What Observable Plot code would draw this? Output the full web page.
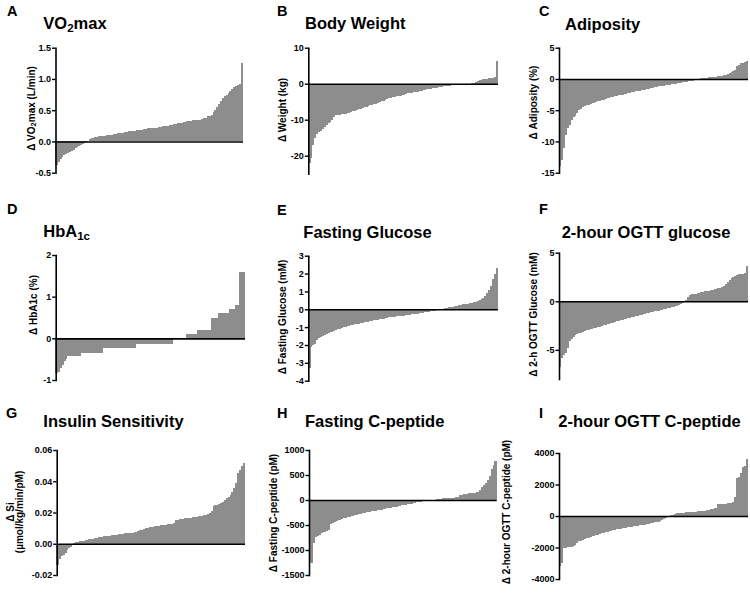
<!DOCTYPE html>
<html><head><meta charset="utf-8">
<script src="https://cdn.jsdelivr.net/npm/d3@7"></script>
<script src="https://cdn.jsdelivr.net/npm/@observablehq/plot@0.6"></script>
<style>
body{margin:0;background:#fff;}
#wrap{position:relative;width:750px;height:593px;overflow:hidden;font-family:"Liberation Sans",Arial,sans-serif;}
.panel{position:absolute;}
#overlay{position:absolute;left:0;top:0;}
</style></head><body><div id="wrap"></div>
<script>
// ---------- data (sorted individual changes) ----------
const vo2maxChange = [
-0.37,-0.33,-0.28,-0.25,-0.22,-0.2,-0.18,-0.17,-0.15,-0.13,
-0.11,-0.09,-0.07,-0.05,-0.04,-0.02,-0.01,0.01,0.04,0.05,
0.06,0.07,0.07,0.08,0.08,0.09,0.09,0.1,0.1,0.11,
0.11,0.12,0.12,0.13,0.13,0.14,0.14,0.15,0.15,0.16,
0.16,0.17,0.17,0.18,0.18,0.19,0.19,0.2,0.2,0.21,
0.21,0.21,0.22,0.22,0.22,0.23,0.23,0.24,0.24,0.24,
0.25,0.26,0.27,0.28,0.28,0.29,0.3,0.3,0.31,0.31,
0.32,0.33,0.33,0.34,0.34,0.35,0.35,0.35,0.36,0.37,
0.38,0.4,0.41,0.43,0.47,0.5,0.55,0.6,0.65,0.7,
0.72,0.75,0.78,0.8,0.84,0.87,0.88,0.9,0.92,1.25];
const weightChange = [
-22,-20.5,-17,-15,-14,-13.5,-13,-12.5,-12,-11.5,
-11,-10.5,-10,-9.2,-8.8,-8.7,-8.6,-8.5,-8.4,-8.3,
-8.2,-8.0,-7.8,-7.6,-7.5,-7.3,-7.1,-7.0,-6.8,-6.6,
-6.4,-6.2,-6.0,-5.8,-5.6,-5.5,-5.3,-5.1,-4.9,-4.7,
-4.5,-4.3,-4.1,-3.9,-3.8,-3.6,-3.5,-3.4,-3.3,-3.1,
-3.0,-2.9,-2.7,-2.6,-2.5,-2.4,-2.3,-2.2,-2.0,-1.9,
-1.8,-1.7,-1.6,-1.5,-1.4,-1.3,-1.2,-1.1,-1.0,-0.9,
-0.8,-0.7,-0.6,-0.55,-0.5,-0.45,-0.4,-0.35,-0.3,-0.25,
-0.2,-0.15,-0.1,-0.05,-0.02,0.02,0.1,0.3,0.6,0.8,
1.0,1.1,1.2,1.3,1.4,1.5,1.6,1.7,1.8,6.3];
const adiposityChange = [
-14,-13,-11,-9,-7.8,-7.4,-6.5,-6.1,-6.0,-5.5,
-5.0,-4.8,-4.5,-4.3,-4.2,-4.1,-4.0,-3.9,-3.8,-3.7,
-3.6,-3.5,-3.4,-3.3,-3.2,-3.1,-3.0,-2.95,-2.9,-2.8,
-2.7,-2.6,-2.55,-2.5,-2.4,-2.35,-2.3,-2.2,-2.15,-2.1,
-2.0,-1.95,-1.9,-1.8,-1.75,-1.7,-1.6,-1.55,-1.5,-1.4,
-1.35,-1.3,-1.2,-1.15,-1.1,-1.05,-1.0,-0.95,-0.9,-0.85,
-0.8,-0.75,-0.7,-0.65,-0.6,-0.55,-0.5,-0.45,-0.4,-0.3,
-0.25,-0.2,-0.1,-0.05,0.05,0.1,0.12,0.15,0.2,0.25,
0.3,0.3,0.32,0.35,0.4,0.45,0.5,0.6,0.7,0.85,
1.0,1.1,1.3,1.5,2.0,2.2,2.5,2.6,2.7,2.8];
const hba1cChange = [
-0.84,-0.8,-0.72,-0.65,-0.55,-0.5,-0.43,-0.43,-0.43,-0.43,
-0.43,-0.43,-0.43,-0.35,-0.35,-0.35,-0.35,-0.35,-0.35,-0.35,
-0.35,-0.35,-0.35,-0.35,-0.35,-0.24,-0.24,-0.24,-0.24,-0.24,
-0.24,-0.24,-0.24,-0.24,-0.24,-0.24,-0.24,-0.24,-0.24,-0.24,
-0.24,-0.24,-0.14,-0.14,-0.14,-0.14,-0.14,-0.14,-0.14,-0.14,
-0.14,-0.14,-0.14,-0.14,-0.14,-0.14,-0.14,-0.14,-0.14,-0.14,
-0.14,-0.14,0,0,0,0,0,0,0,0.1,
0.1,0.1,0.1,0.1,0.1,0.2,0.2,0.2,0.2,0.2,
0.2,0.2,0.5,0.5,0.5,0.5,0.6,0.6,0.6,0.6,
0.6,0.6,0.7,0.7,0.7,0.8,0.8,1.6,1.6,1.6];
const fastingGlucoseChange = [
-3.3,-2.1,-2.0,-1.95,-1.7,-1.6,-1.55,-1.5,-1.45,-1.4,
-1.35,-1.3,-1.25,-1.2,-1.15,-1.1,-1.08,-1.05,-1.0,-0.98,
-0.95,-0.92,-0.9,-0.87,-0.85,-0.82,-0.8,-0.78,-0.76,-0.74,
-0.72,-0.7,-0.68,-0.65,-0.62,-0.6,-0.58,-0.56,-0.54,-0.52,
-0.5,-0.48,-0.46,-0.45,-0.43,-0.42,-0.4,-0.39,-0.37,-0.36,
-0.35,-0.33,-0.32,-0.3,-0.29,-0.28,-0.27,-0.25,-0.23,-0.21,
-0.19,-0.17,-0.15,-0.13,-0.11,-0.09,-0.07,-0.05,-0.03,-0.02,
0.01,0.03,0.06,0.08,0.1,0.12,0.15,0.18,0.2,0.22,
0.25,0.28,0.3,0.31,0.32,0.34,0.36,0.38,0.4,0.45,
0.5,0.55,0.65,0.75,0.9,1.1,1.3,1.7,2.0,2.3];
const ogttGlucoseChange = [
-6.8,-5.8,-5.5,-5.3,-4.8,-4.1,-3.9,-3.7,-3.5,-3.4,
-3.3,-3.25,-3.2,-3.1,-3.0,-2.95,-2.9,-2.85,-2.8,-2.7,
-2.65,-2.6,-2.5,-2.45,-2.4,-2.35,-2.3,-2.25,-2.2,-2.1,
-2.05,-2.0,-1.95,-1.9,-1.85,-1.8,-1.75,-1.7,-1.65,-1.6,
-1.55,-1.5,-1.45,-1.4,-1.35,-1.3,-1.25,-1.2,-1.15,-1.1,
-1.05,-1.0,-0.95,-0.9,-0.85,-0.8,-0.75,-0.7,-0.65,-0.6,
-0.55,-0.5,-0.45,-0.35,-0.3,-0.2,-0.1,0.1,0.4,0.6,
0.7,0.75,0.8,0.85,0.9,0.95,1.0,1.05,1.1,1.1,
1.15,1.2,1.25,1.3,1.35,1.4,1.5,1.6,1.8,2.0,
2.2,2.4,2.5,2.6,2.7,2.8,2.8,2.85,2.9,3.6];
const siChange = [
-0.0135,-0.01,-0.008,-0.007,-0.006,-0.004,-0.003,-0.002,-0.001,0.0005,
0.001,0.0012,0.0015,0.0018,0.002,0.0022,0.0025,0.0028,0.003,0.0033,
0.0036,0.0039,0.0042,0.0044,0.0046,0.0048,0.005,0.0051,0.0052,0.0053,
0.0055,0.0057,0.0059,0.006,0.0062,0.0064,0.0066,0.0068,0.007,0.0071,
0.0072,0.0074,0.0076,0.008,0.0085,0.009,0.0095,0.01,0.0102,0.0105,
0.0108,0.011,0.0112,0.0114,0.0116,0.0118,0.012,0.0121,0.0122,0.0124,
0.0126,0.0128,0.013,0.0152,0.0154,0.0156,0.0158,0.016,0.0162,0.0164,
0.0166,0.0168,0.017,0.0172,0.0174,0.0176,0.0178,0.018,0.0182,0.0185,
0.019,0.02,0.021,0.024,0.0245,0.025,0.0255,0.026,0.027,0.028,
0.029,0.03,0.031,0.033,0.036,0.039,0.045,0.047,0.05,0.052];
const fastingCpeptideChange = [
-1250,-1250,-850,-740,-720,-700,-660,-640,-630,-610,
-600,-480,-450,-430,-410,-400,-390,-375,-360,-350,
-340,-330,-320,-310,-300,-295,-285,-275,-265,-255,
-245,-240,-235,-228,-220,-212,-205,-198,-190,-182,
-175,-168,-160,-152,-145,-138,-130,-122,-115,-108,
-100,-92,-85,-78,-70,-62,-55,-48,-42,-35,
-28,-20,-12,-6,-2,0,2,5,20,25,
30,35,38,40,42,45,48,50,55,60,
100,110,120,125,130,135,140,145,150,160,
170,200,260,300,340,400,480,620,700,780];
const ogttCpeptideChange = [
-3200,-3000,-2050,-2000,-1980,-1960,-1940,-1900,-1820,-1700,
-1600,-1560,-1520,-1480,-1420,-1380,-1340,-1300,-1260,-1220,
-1180,-1140,-1100,-1060,-1020,-990,-960,-930,-900,-880,
-850,-820,-800,-780,-760,-740,-720,-700,-680,-660,
-640,-620,-600,-580,-560,-540,-520,-500,-470,-440,
-410,-380,-350,-320,-280,-220,-150,-80,-30,40,
80,120,160,190,200,210,220,230,240,250,
260,270,280,290,300,310,320,330,350,400,
420,450,480,500,750,760,770,780,790,800,
820,850,870,1200,2400,2500,2700,3100,3200,3600];

// ---------- tick values ----------
const vo2Ticks = [-0.5, 0.0, 0.5, 1.0, 1.5];
const weightTicks = [-20, -10, 0, 10];
const adiposityTicks = [-15, -10, -5, 0, 5];
const hba1cTicks = [-1, 0, 1, 2];
const fastingGlucoseTicks = [-4, -3, -2, -1, 0, 1, 2, 3];
const ogttGlucoseTicks = [-5, 0, 5];
const siTicks = [-0.02, 0.00, 0.02, 0.04, 0.06];
const fastingCpeptideTicks = [-1500, -1000, -500, 0, 500, 1000];
const ogttCpeptideTicks = [-4000, -2000, 0, 2000, 4000];

// ---------- text ----------
const panelLetters = ["A","B","C","D","E","F","G","H","I"];
const panelTitles = [
  [["VO"],["2","sub"],["max"]],
  [["Body Weight"]],
  [["Adiposity"]],
  [["HbA"],["1c","sub"]],
  [["Fasting Glucose"]],
  [["2-hour OGTT glucose"]],
  [["Insulin Sensitivity"]],
  [["Fasting C-peptide"]],
  [["2-hour OGTT C-peptide"]]
];
// each label: list of lines; each line: list of [text, "sub"?] parts
const yLabels = [
  [[["Δ VO"],["2","sub"],["max (L/min)"]]],
  [[["Δ Weight (kg)"]]],
  [[["Δ Adiposity (%)"]]],
  [[["Δ HbA1c (%)"]]],
  [[["Δ Fasting Glucose (mM)"]]],
  [[["Δ 2-h OGTT Glucose (mM)"]]],
  [[["Δ Si"]],[["(µmol/kg/min/pM)"]]],
  [[["Δ Fasting C-peptide (pM)"]]],
  [[["Δ 2-hour OGTT C-peptide (pM)"]]]
];

// ---------- layout (positions only) ----------
const fmt1 = d => d.toFixed(1), fmt0 = d => String(d), fmt2 = d => d.toFixed(2);
const panels = [
  {vals: vo2maxChange, ticks: vo2Ticks, domain:[-0.5,1.5], fmt: fmt1,
   left:0, top:0, w:250, h:190, ml:55.5, mr:7, mt:47.7, mb:17.3,
   letter:[7,16], title:[43.3,29.3], ylab:[[30.5,108.5]]},
  {vals: weightChange, ticks: weightTicks, domain:[-25,10], fmt: fmt0,
   left:250, top:0, w:250, h:190, ml:58.3, mr:2, mt:47.7, mb:16.3,
   letter:[277,16], title:[305,29.3], ylab:[[282,110]]},
  {vals: adiposityChange, ticks: adiposityTicks, domain:[-15,5], fmt: fmt0,
   left:500, top:0, w:250, h:190, ml:59, mr:2, mt:47.7, mb:17.3,
   letter:[539,16], title:[565,30], ylab:[[532.5,102.5]]},
  {vals: hba1cChange, ticks: hba1cTicks, domain:[-1,2], fmt: fmt0,
   left:0, top:190, w:250, h:200, ml:55.7, mr:5, mt:65, mb:10,
   letter:[7,214], title:[43.3,237.3], ylab:[[32.5,305]]},
  {vals: fastingGlucoseChange, ticks: fastingGlucoseTicks, domain:[-4,3], fmt: fmt0,
   left:250, top:190, w:250, h:200, ml:58.3, mr:2, mt:65.7, mb:9.3,
   letter:[277,215], title:[303.3,237.7], ylab:[[282,317]]},
  {vals: ogttGlucoseChange, ticks: ogttGlucoseTicks, domain:[-8,5], fmt: fmt0,
   left:500, top:190, w:250, h:200, ml:59, mr:2, mt:62.7, mb:11,
   letter:[539,214], title:[561.7,237.7], ylab:[[532.5,314.5]]},
  {vals: siChange, ticks: siTicks, domain:[-0.02,0.06], fmt: fmt2,
   left:0, top:390, w:250, h:203, ml:56.7, mr:5, mt:60, mb:18,
   letter:[6,418], title:[43.3,427.3], ylab:[[9.5,512],[19,512]]},
  {vals: fastingCpeptideChange, ticks: fastingCpeptideTicks, domain:[-1500,1000], fmt: fmt0,
   left:250, top:390, w:250, h:203, ml:59, mr:3.3, mt:60, mb:18,
   letter:[277,417.7], title:[305,426.7], ylab:[[272.5,513]]},
  {vals: ogttCpeptideChange, ticks: ogttCpeptideTicks, domain:[-4000,4000], fmt: fmt0,
   left:500, top:390, w:250, h:203, ml:59, mr:2, mt:63, mb:14,
   letter:[539,417.7], title:[558.3,427.3], ylab:[[506,512]]}
];

const wrap = document.getElementById("wrap");
const FONT = "Liberation Sans, Arial, sans-serif";
const BAR = "#8d8d8d";

panels.forEach(p => {
  const data = p.vals.map((v, i) => ({i, v}));
  const chart = Plot.plot({
    width: p.w, height: p.h,
    marginLeft: p.ml, marginRight: p.mr, marginTop: p.mt, marginBottom: p.mb,
    style: {fontFamily: FONT, fontSize: "9px", fontWeight: "bold", color: "#000", background: "transparent", overflow: "visible"},
    x: {type: "band", domain: d3.range(p.vals.length), padding: 0, round: false, axis: null},
    y: {domain: p.domain},
    marks: [
      Plot.barY(data, {x: "i", y: "v", fill: BAR, insetLeft: -0.4, insetRight: -0.4, shapeRendering: "crispEdges"}),
      Plot.ruleY([0], {stroke: "#000", strokeWidth: 1.6}),
      Plot.frame({anchor: "left", stroke: "#000", strokeWidth: 1.6}),
      Plot.axisY({ticks: p.ticks, tickFormat: p.fmt, tickSize: 3.5, tickPadding: 1.5, label: null, strokeWidth: 1.4, fontWeight: "bold"})
    ]
  });
  const div = document.createElement("div");
  div.className = "panel";
  div.style.left = p.left + "px";
  div.style.top = p.top + "px";
  div.appendChild(chart);
  wrap.appendChild(div);
});

// ---------- overlay text ----------
const svg = d3.select(wrap).append("svg").attr("id", "overlay")
  .attr("width", 750).attr("height", 593)
  .style("font-family", FONT).style("font-weight", "bold");

function addParts(textSel, parts, subSize) {
  parts.forEach(part => {
    const t = textSel.append("tspan").text(part[0]);
    if (part[1] === "sub") t.attr("font-size", subSize).attr("baseline-shift", "-25%");
  });
}

panels.forEach((p, k) => {
  svg.append("text").attr("x", p.letter[0]).attr("y", p.letter[1])
    .attr("font-size", 14.5).text(panelLetters[k]);
  const t = svg.append("text").attr("x", p.title[0]).attr("y", p.title[1])
    .attr("font-size", 16.5);
  addParts(t, panelTitles[k], 11.5);
  yLabels[k].forEach((line, j) => {
    const [cx, cy] = p.ylab[j];
    const lt = svg.append("text")
      .attr("transform", `translate(${cx},${cy}) rotate(-90)`)
      .attr("text-anchor", "middle").attr("dominant-baseline", "central")
      .attr("font-size", 10);
    addParts(lt, line, 7.5);
  });
});
</script></body></html>
